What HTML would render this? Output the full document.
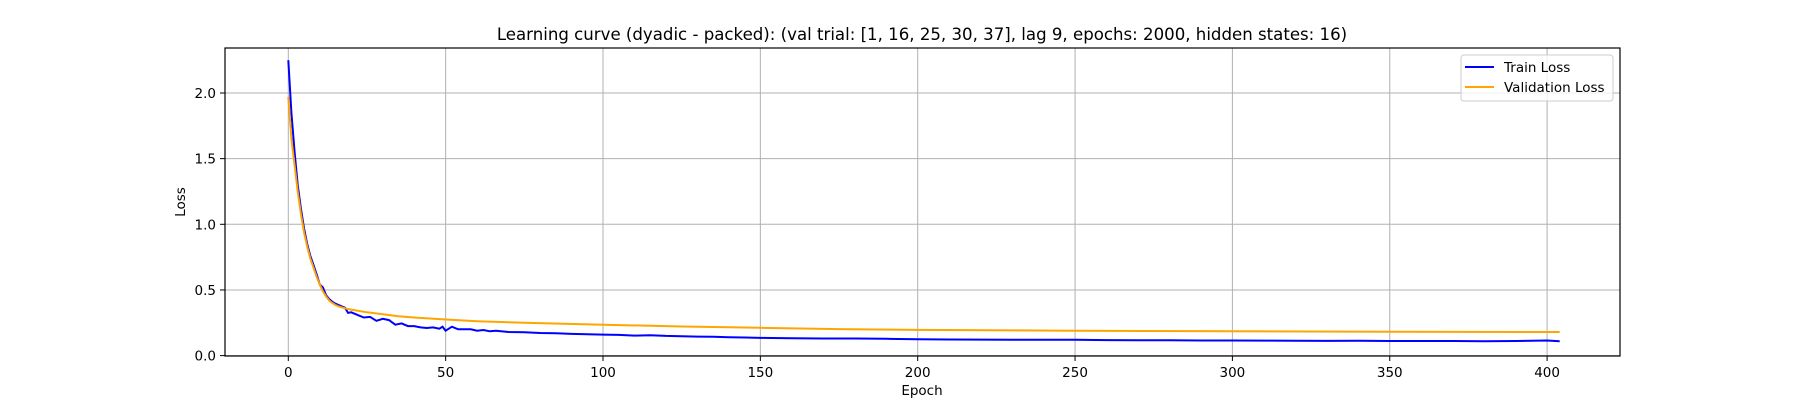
<!DOCTYPE html>
<html><head><meta charset="utf-8">
<style>
html,body{margin:0;padding:0;background:#fff;}
svg{display:block;font-family:"DejaVu Sans","Liberation Sans",sans-serif;}
</style></head>
<body>
<svg id="chart" width="1800" height="400" viewBox="0 0 1800 400">
<rect x="0" y="0" width="1800" height="400" fill="#fff"/>
<text x="922" y="40" text-anchor="middle" font-size="16.6" fill="#000">Learning curve (dyadic - packed): (val trial: [1, 16, 25, 30, 37], lag 9, epochs: 2000, hidden states: 16)</text>
<g id="grid"></g>
<g id="series"></g>
<rect x="225" y="48" width="1395" height="308" fill="none" stroke="#000" stroke-width="1.2"/>
<g id="ticks"></g>
<text x="922" y="395" text-anchor="middle" font-size="13.5">Epoch</text>
<text transform="translate(185,202) rotate(-90)" text-anchor="middle" font-size="13.5">Loss</text>
<g>
<rect x="1461" y="55" width="152" height="46" rx="3" fill="#fff" fill-opacity="0.8" stroke="#ccc"/>
<line x1="1465" y1="67" x2="1494" y2="67" stroke="#0000ff" stroke-width="2"/>
<text x="1504" y="72" font-size="13.5">Train Loss</text>
<line x1="1465" y1="87" x2="1494" y2="87" stroke="#ffa500" stroke-width="2"/>
<text x="1504" y="92" font-size="13.5">Validation Loss</text>
</g>
</svg>
<script>
const trainEpochs=[0,1,2,3,4,5,6,7,8,9,10,11,12,13,14,15,16,17,18,19,20,22,24,26,28,30,32,34,36,38,40,42,44,46,48,49,50,52,54,58,60,62,64,66,70,75,80,85,90,95,100,105,110,115,120,125,130,135,140,145,150,160,170,180,190,200,210,220,230,240,250,260,270,280,290,300,310,320,330,340,350,360,370,380,390,400,404];
const trainLoss=[2.25,1.85,1.55,1.3,1.12,0.97,0.85,0.76,0.69,0.62,0.54,0.52,0.46,0.43,0.41,0.395,0.385,0.375,0.365,0.325,0.33,0.31,0.29,0.295,0.265,0.28,0.27,0.235,0.245,0.225,0.225,0.215,0.21,0.215,0.205,0.22,0.19,0.22,0.2,0.2,0.19,0.195,0.185,0.19,0.18,0.178,0.172,0.17,0.165,0.163,0.16,0.158,0.152,0.155,0.15,0.148,0.145,0.143,0.14,0.138,0.135,0.132,0.13,0.13,0.128,0.125,0.123,0.122,0.12,0.12,0.12,0.118,0.117,0.117,0.115,0.115,0.114,0.113,0.112,0.113,0.111,0.111,0.111,0.11,0.111,0.115,0.11];
const valEpochs=[0,1,2,3,4,5,6,7,8,9,10,11,12,13,14,15,16,18,20,25,30,35,40,50,60,75,100,125,150,175,200,250,300,350,404];
const valLoss=[1.97,1.65,1.45,1.25,1.08,0.94,0.83,0.74,0.67,0.6,0.54,0.49,0.45,0.42,0.4,0.385,0.375,0.36,0.35,0.33,0.315,0.3,0.29,0.275,0.262,0.25,0.235,0.222,0.212,0.202,0.196,0.19,0.185,0.181,0.18];
const xTicks=[0,50,100,150,200,250,300,350,400];
const yTicks=[0,0.5,1.0,1.5,2.0];
const yTickLabels=["0.0","0.5","1.0","1.5","2.0"];

const X=e=>288.3+e*3.147;
const Y=v=>355.6-v*131.3;
const NS="http://www.w3.org/2000/svg";
const grid=document.getElementById('grid'),ticks=document.getElementById('ticks'),series=document.getElementById('series');
function mk(tag,attrs,parent){const el=document.createElementNS(NS,tag);for(const k in attrs)el.setAttribute(k,attrs[k]);parent.appendChild(el);return el;}
xTicks.forEach(t=>{
  const g=mk('line',{x1:X(t),x2:X(t),y1:48,y2:356,stroke:'#b0b0b0','stroke-width':1},grid);
  
  
  const tk=mk('line',{x1:X(t),x2:X(t),y1:356,y2:361,stroke:'#000'},ticks);
  
  
  const tx=mk('text',{x:X(t),y:377,'text-anchor':'middle','font-size':13.5},ticks);
  tx.textContent=t;
  
  
});
yTicks.forEach((t,i)=>{
  const g=mk('line',{x1:225,x2:1620,y1:Y(t),y2:Y(t),stroke:'#b0b0b0','stroke-width':1},grid);
  
  
  const tk=mk('line',{x1:220,x2:225,y1:Y(t),y2:Y(t),stroke:'#000'},ticks);
  
  
  const tx=mk('text',{x:216,y:Y(t)+5,'text-anchor':'end','font-size':13.5},ticks);
  tx.textContent=yTickLabels[i];
  
  
});
function path(xs,ys){
  return xs.map((e,i)=>(i?'L':'M')+X(e).toFixed(1)+' '+Y(ys[i]).toFixed(1)).join(' ');
}
const tl=mk('path',{d:path(trainEpochs,trainLoss),fill:'none',stroke:'#0000ff','stroke-width':2},series);


const vl=mk('path',{d:path(valEpochs,valLoss),fill:'none',stroke:'#ffa500','stroke-width':2},series);


</script>
</body></html>
